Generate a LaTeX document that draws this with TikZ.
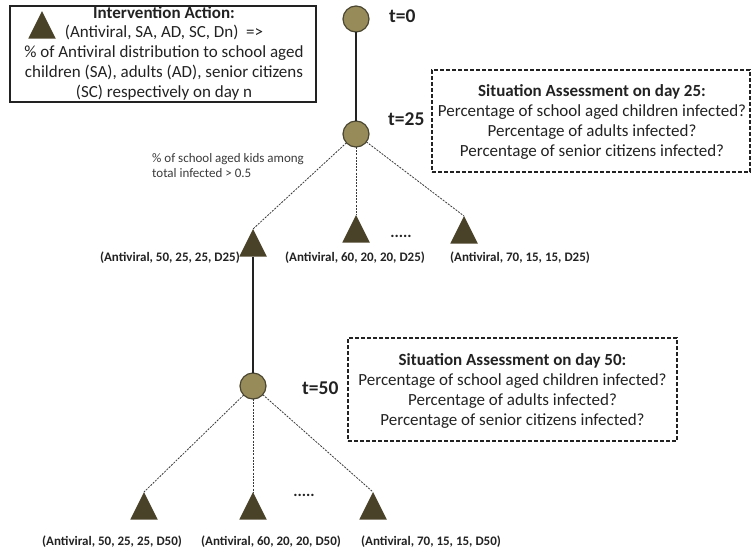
\documentclass[tikz,border=0pt]{standalone}
\usepackage{fontspec}
\setmainfont{Carlito}
\usetikzlibrary{shapes.geometric}

\definecolor{olive}{HTML}{978B5A}
\definecolor{oliveline}{HTML}{4A4630}
\definecolor{actfill}{HTML}{4A4228}
\definecolor{ink}{HTML}{222222}
\definecolor{note}{HTML}{3A3A3A}

\tikzset{
  state/.style={circle, draw=oliveline, line width=1.2pt, fill=olive,
    minimum size=26pt, inner sep=0pt, outer sep=0pt},
  act/.style={isosceles triangle, isosceles triangle stretches,
    shape border rotate=90, fill=actfill, minimum width=27.5pt,
    minimum height=27.5pt, inner sep=0pt, outer sep=0pt, anchor=apex},
  trunk/.style={draw=ink, line width=2.2pt},
  branch/.style={draw=note, line width=0.8pt, dash pattern=on 2pt off 1.2pt},
  timelbl/.style={font=\fontsize{19.5}{22}\selectfont\bfseries, text=ink, inner sep=0pt},
  optlbl/.style={font=\fontsize{13}{15}\selectfont\bfseries, text=ink, inner sep=0pt},
  bodytext/.style={font=\fontsize{17}{19.7}\selectfont, text=ink, align=center, inner sep=0pt},
  assess/.style={draw=ink, line width=1.3pt, dash pattern=on 4pt off 2pt},
  dots/.style={font=\fontsize{16}{17}\selectfont\bfseries, text=ink, inner sep=0pt},
}

\begin{document}
\begin{tikzpicture}[x=1pt, y=-1pt]
\useasboundingbox (0,0) rectangle (752,549);

% legend box for the intervention action
\draw[draw=ink, line width=1.6pt] (10,6) rectangle (316,102);
\node[bodytext] (legtext) at (164,53) {\textbf{Intervention Action:}\\
  (Antiviral, SA, AD, SC, Dn)\ \ =>\\
  \% of Antiviral distribution to school aged\\
  children (SA), adults (AD), senior citizens\\
  (SC) respectively on day n};
\node[act] (legtri) at (42,11) {};

% decision points in time
\node[state] (t0) at (356,19) {};
\node[state] (t25) at (356,134) {};
\node[state] (t50) at (253,386) {};
\node[timelbl, anchor=west] (l0) at (389,16) {t=0};
\node[timelbl, anchor=west] (l25) at (388,119) {t=25};
\node[timelbl, anchor=west] (l50) at (302,388) {t=50};

% intervention options on day 25
\node[act] (a50) at (253,229) {};
\node[act] (a60) at (356,215) {};
\node[act] (a70) at (464,216) {};
\node[dots] (d25) at (401,236) {.....};
\node[optlbl, anchor=east] (la50) at (240,258) {(Antiviral, 50, 25, 25, D25)};
\node[optlbl] (la60) at (355,258) {(Antiviral, 60, 20, 20, D25)};
\node[optlbl] (la70) at (520,258) {(Antiviral, 70, 15, 15, D25)};

% intervention options on day 50
\node[act] (b50) at (144,492) {};
\node[act] (b60) at (253,492) {};
\node[act] (b70) at (373,492) {};
\node[dots] (d50) at (304,495) {.....};
\node[optlbl] (lb50) at (112,542) {(Antiviral, 50, 25, 25, D50)};
\node[optlbl] (lb60) at (271,542) {(Antiviral, 60, 20, 20, D50)};
\node[optlbl] (lb70) at (431,542) {(Antiviral, 70, 15, 15, D50)};

% branching condition
\node[font=\fontsize{13}{15}\selectfont, text=note, align=left, anchor=west, inner sep=0pt]
  (cond) at (152,165.5) {\% of school aged kids among\\total infected > 0.5};

% situation assessments
\node[assess, minimum width=318pt, minimum height=102pt, inner sep=0pt] (s25box) at (591,121) {};
\node[bodytext] (s25) at (592,122) {\textbf{Situation Assessment on day 25:}\\
  Percentage of school aged children infected?\\
  Percentage of adults infected?\\
  Percentage of senior citizens infected?};
\node[assess, minimum width=329pt, minimum height=103pt, inner sep=0pt] (s50box) at (512.5,389.5) {};
\node[bodytext] (s50) at (512.5,391) {\textbf{Situation Assessment on day 50:}\\
  Percentage of school aged children infected?\\
  Percentage of adults infected?\\
  Percentage of senior citizens infected?};

% chosen path
\draw[trunk] (t0) -- (t25);
\draw[trunk] (a50.south) -- (t50);

% branches to the options
\draw[branch] (t25) -- (a50.apex);
\draw[branch] (t25) -- (a60.apex);
\draw[branch] (t25) -- (a70.apex);
\draw[branch] (t50) -- (b50.apex);
\draw[branch] (t50) -- (b60.apex);
\draw[branch] (t50) -- (b70.apex);
\end{tikzpicture}
\end{document}
